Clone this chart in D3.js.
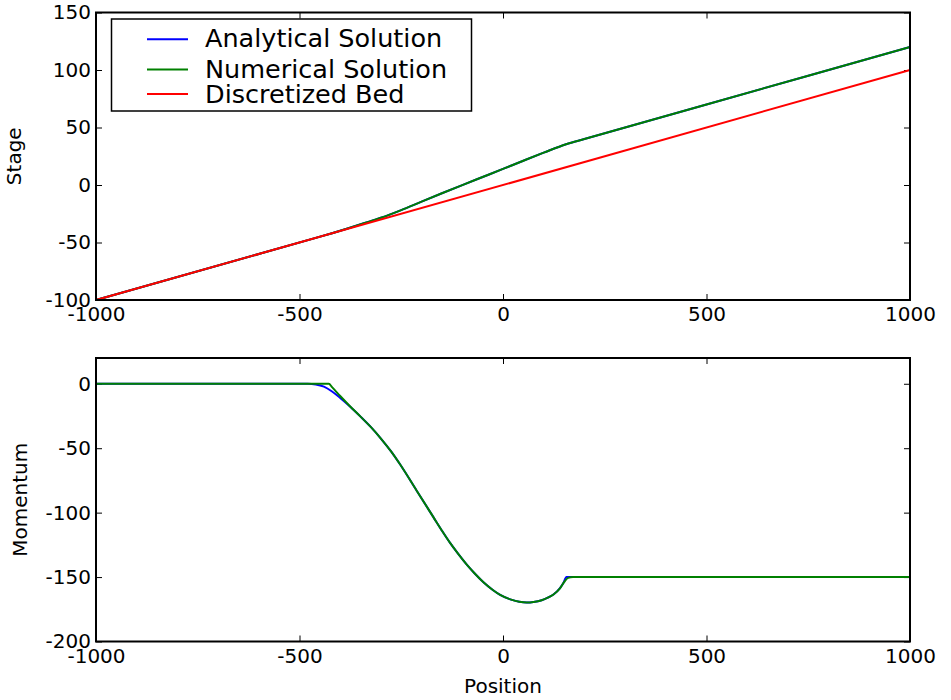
<!DOCTYPE html>
<html lang="en">
    <head>
        <meta charset="utf-8">
        <title>Stage and momentum</title>
        <script type="text/javascript" src="https://cdn.jsdelivr.net/npm/d3@7/dist/d3.min.js"></script>
        <style type="text/css">
            body { margin: 0; background: #fff; }
            text { font-family: "DejaVu Sans", sans-serif; fill: #000; }
        </style>
    </head>
    <body>
        <script type="text/javascript">
        // x ticks shared by both panels
        var xTicks = [-1000, -500, 0, 500, 1000];
        var stageTicks = [-100, -50, 0, 50, 100, 150];
        var momTicks = [-200, -150, -100, -50, 0];

        // bed: straight line
        var bedX = [-1000, 1000];
        var bedY = [-100, 100];

        // stage (analytical and numerical look the same)
        var stageX = [-1000, -460, -420, -380, -340, -300, -250, -200, -150, -100, -50, 0, 50, 100, 155, 200, 500, 1000];
        var stageAnalytical = [-100, -46, -41.9, -37.6, -33.1, -28.5, -21.8, -14.4, -7.2, -0.1, 6.95, 14.0, 21.1, 28.1, 35.5, 40, 70, 120];
        var stageNumerical  = [-100, -46, -41.9, -37.6, -33.1, -28.5, -21.8, -14.4, -7.2, -0.1, 6.95, 14.0, 21.1, 28.1, 35.5, 40, 70, 120];

        // momentum
        var momAX = [-1000, -480, -460, -440, -420, -400, -376, -350, -325, -300, -275, -253, -212, -171, -150, -130, -110, -89, -70, -48, -25, -7, 20, 40, 58, 75, 95, 110, 124, 140, 148, 156, 1000];
        var momAnalytical = [0, 0, -0.5, -2.2, -6, -11, -17.6, -25.5, -33.5, -42.5, -52.5, -62.5, -83, -103.5, -114, -123.5, -132, -140.3, -147, -154, -160, -163.8, -167.5, -169.2, -169.8, -169.4, -168, -166, -163.5, -158.5, -154.8, -150, -150];
        var momNX = [-1000, -428, -420, -400, -376, -350, -325, -300, -275, -253, -212, -171, -150, -130, -110, -89, -70, -48, -25, -7, 20, 40, 58, 75, 95, 110, 124, 140, 150, 160, 172, 1000];
        var momNumerical = [0, 0, -2.6, -9.5, -17.4, -25.5, -33.5, -42.5, -52.5, -62.5, -83, -103.5, -114, -123.5, -132, -140.3, -147, -154, -160, -163.8, -167.5, -169.2, -169.8, -169.4, -168, -166, -163.5, -158.8, -154, -150.6, -150, -150];

        var svgWidth = 951, svgHeight = 700;
        var left = 96, right = 910;
        var top1 = 12.5, bot1 = 300;
        var top2 = 358, bot2 = 641.5;

        var svg = d3.select("body")
            .append("svg")
            .attr("width", svgWidth)
            .attr("height", svgHeight);

        var x = d3.scaleLinear().domain([-1000, 1000]).range([left, right]);
        var y1 = d3.scaleLinear().domain([-100, 150]).range([bot1, top1]);
        var y2 = d3.scaleLinear().domain([-200, 20]).range([bot2, top2]);

        function zip(xs, ys) {
            return xs.map(function(v, i) { return [v, ys[i]]; });
        }

        function drawAxes(y, yTicks, yTop, yBot) {
            var g = svg.append("g");
            var fmt = function(d) { return String(d); };

            g.append("g")
                .attr("transform", "translate(0," + yBot + ")")
                .call(d3.axisBottom(x).tickValues(xTicks).tickSizeInner(-6).tickSizeOuter(0).tickPadding(7).tickFormat(fmt));
            g.append("g")
                .attr("transform", "translate(0," + yTop + ")")
                .call(d3.axisTop(x).tickValues(xTicks).tickSizeInner(-6).tickSizeOuter(0).tickFormat(""));
            g.append("g")
                .attr("transform", "translate(" + left + ",0)")
                .call(d3.axisLeft(y).tickValues(yTicks).tickSizeInner(-6).tickSizeOuter(0).tickPadding(5).tickFormat(fmt));
            g.append("g")
                .attr("transform", "translate(" + right + ",0)")
                .call(d3.axisRight(y).tickValues(yTicks).tickSizeInner(-6).tickSizeOuter(0).tickFormat(""));

            g.selectAll(".domain").remove();
            g.selectAll(".tick line").attr("stroke", "#000").attr("stroke-width", 1);
            g.selectAll(".tick text").attr("font-size", "20px").attr("font-family", "DejaVu Sans, sans-serif").attr("fill", "#000");
            return g;
        }

        function frame(yTop, yBot) {
            svg.append("rect")
                .attr("x", left).attr("y", yTop)
                .attr("width", right - left).attr("height", yBot - yTop)
                .attr("fill", "none").attr("stroke", "#000").attr("stroke-width", 2);
        }

        function drawLine(pts, y, color, curve) {
            svg.append("path")
                .datum(pts)
                .attr("fill", "none")
                .attr("stroke", color)
                .attr("stroke-width", 2)
                .attr("stroke-linejoin", "round")
                .attr("d", d3.line()
                    .x(function(d) { return x(d[0]); })
                    .y(function(d) { return y(d[1]); })
                    .curve(curve));
        }

        // top panel
        drawAxes(y1, stageTicks, top1, bot1);
        drawLine(zip(stageX, stageAnalytical), y1, "#0000ff", d3.curveMonotoneX);
        drawLine(zip(stageX, stageNumerical), y1, "#008000", d3.curveMonotoneX);
        drawLine(zip(bedX, bedY), y1, "#ff0000", d3.curveLinear);
        frame(top1, bot1);

        // bottom panel
        drawAxes(y2, momTicks, top2, bot2);
        drawLine(zip(momAX, momAnalytical), y2, "#0000ff", d3.curveMonotoneX);
        drawLine(zip(momNX, momNumerical), y2, "#008000", d3.curveMonotoneX);
        frame(top2, bot2);

        // axis labels
        svg.append("text")
            .attr("transform", "translate(21," + (top1 + bot1) / 2 + ") rotate(-90)")
            .attr("text-anchor", "middle")
            .attr("font-size", "20px")
            .text("Stage");
        svg.append("text")
            .attr("transform", "translate(27," + (top2 + bot2) / 2 + ") rotate(-90)")
            .attr("text-anchor", "middle")
            .attr("font-size", "20px")
            .text("Momentum");
        svg.append("text")
            .attr("x", (left + right) / 2)
            .attr("y", 693)
            .attr("text-anchor", "middle")
            .attr("font-size", "20px")
            .text("Position");

        // legend
        var legendNames = ["Analytical Solution", "Numerical Solution", "Discretized Bed"];
        var legendColors = ["#0000ff", "#008000", "#ff0000"];
        var legendLineY = [39.3, 69.5, 94];
        var legendTextY = [47, 78, 103];

        var lg = svg.append("g");
        lg.append("rect")
            .attr("x", 111.5).attr("y", 19)
            .attr("width", 360).attr("height", 92)
            .attr("fill", "#fff").attr("stroke", "#000").attr("stroke-width", 1.5);
        legendNames.forEach(function(name, i) {
            lg.append("line")
                .attr("x1", 147).attr("x2", 188)
                .attr("y1", legendLineY[i]).attr("y2", legendLineY[i])
                .attr("stroke", legendColors[i]).attr("stroke-width", 2);
            lg.append("text")
                .attr("x", 205).attr("y", legendTextY[i])
                .attr("font-size", "25.5px")
                .text(name);
        });
        </script>
    </body>
</html>
